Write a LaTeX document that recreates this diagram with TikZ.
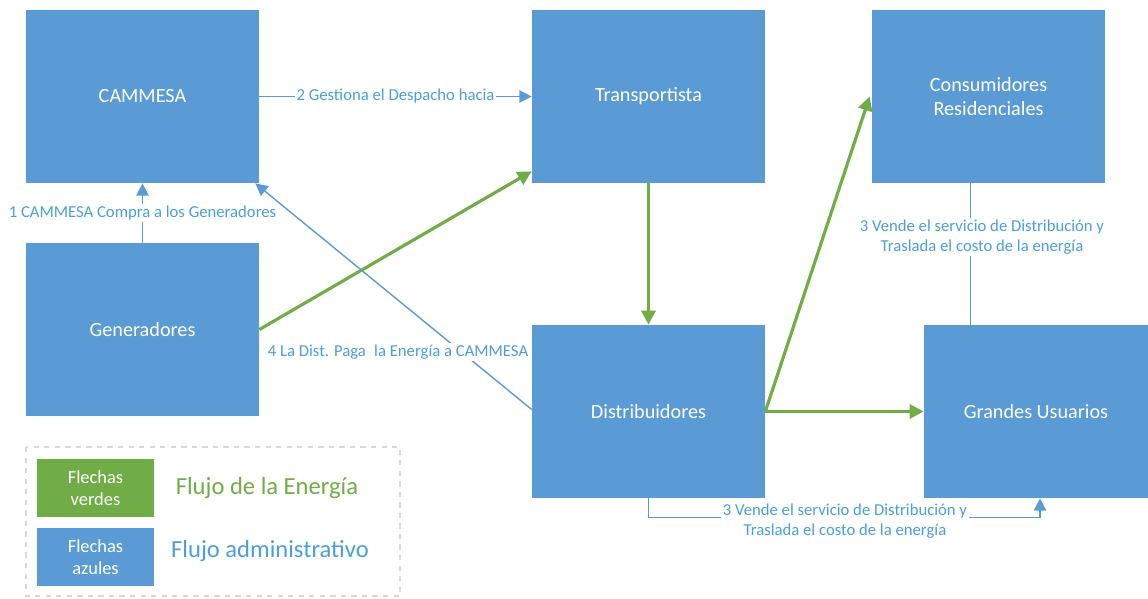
\documentclass[tikz,border=0pt]{standalone}
\usepackage{fontspec}
\setmainfont{Carlito}
\usetikzlibrary{arrows.meta, positioning, calc}
\definecolor{boxblue}{HTML}{5B9BD5}
\definecolor{boxgreen}{HTML}{70AD47}
\definecolor{txtblue}{HTML}{4A9FDB}

\begin{document}
\begin{tikzpicture}[x=0.02cm, y=-0.02cm,
  ent/.style={fill=boxblue, text=white, minimum width=4.66cm, minimum height=3.46cm,
    inner sep=0pt, align=center, font=\fontsize{11.5}{13.5}\selectfont},
  admin/.style={draw=boxblue, line width=0.8pt},
  energy/.style={draw=boxgreen, line width=1.8pt},
  tipb/.style={-{Triangle[length=7pt,width=7pt]}},
  tipg/.style={-{Triangle[length=8pt,width=8pt]}},
  lbl/.style={fill=white, text=txtblue, inner sep=1pt, align=center,
    font=\fontsize{9.5}{11.5}\selectfont},
  legbox/.style={text=white, minimum width=2.34cm, minimum height=1.16cm,
    inner sep=0pt, align=center, font=\fontsize{10.5}{12.5}\selectfont}]

\useasboundingbox (0,0) rectangle (1148,598);

%-- entities
\node[ent] (cam)  at (142.5, 96.5) {CAMMESA};
\node[ent] (tra)  at (648.5, 96.5) {Transportista};
\node[ent] (con)  at (988.5, 96.5) {Consumidores\\Residenciales};
\node[ent] (gen)  at (142.5,329.5) {Generadores};
\node[ent] (dis)  at (648.5,411.5) {Distribuidores};
\node[ent, minimum width=4.48cm] (gus) at (1036,411.5) {Grandes Usuarios};

%-- energy flow
\draw[energy, tipg] (gen.east) -- ($(tra.south west)+(0,-12)$);
\draw[energy, tipg] (tra.south) -- (dis.north);
\draw[energy, tipg] (dis.east) -- ($(con.west)+(-2,0)$);
\draw[energy, tipg] (dis.east) -- (gus.west);

%-- administrative flow
\draw[admin, tipb] (gen.north) -- (cam.south)
  node[lbl, midway] {1 CAMMESA Compra a los Generadores};
\draw[admin, tipb] (cam.east) -- (tra.west)
  node[lbl, midway] {2 Gestiona el Despacho hacia};
\draw[admin, tipb] ($(dis.west)+(0,-2)$) -- ($(cam.south east)+(-4,0)$);
\node[lbl] (l4) at (398,352) {4 La Dist. Paga\enspace la Energía a CAMMESA};
\draw[admin] ($(gus.north west)+(47,0)$) coordinate (gt) -- (gt |- con.south);
\node[lbl] (l3a) at (982,237) {3 Vende el servicio de Distribución y\\Traslada el costo de la energía};
\coordinate (db) at ($(dis.south)+(0,19)$);
\draw[admin, tipb] (dis.south) -- (db) -- ($(gus.south)+(4,19)$) -- ($(gus.south)+(4,0)$);
\node[lbl] (l3b) at (845,521) {3 Vende el servicio de Distribución y\\Traslada el costo de la energía};

%-- legend
\draw[gray!30, dashed, line width=0.6pt] (26,447) rectangle (400,596);
\node[legbox, fill=boxgreen] (lg) at (95.5,488) {Flechas\\verdes};
\node[legbox, fill=boxblue, below=6pt of lg] (lb) {Flechas\\azules};
\node[text=boxgreen, font=\fontsize{14}{16}\selectfont] at (267,488) {Flujo de la Energía};
\node[text=txtblue, font=\fontsize{14}{16}\selectfont] at (270,551) {Flujo administrativo};

\end{tikzpicture}
\end{document}
